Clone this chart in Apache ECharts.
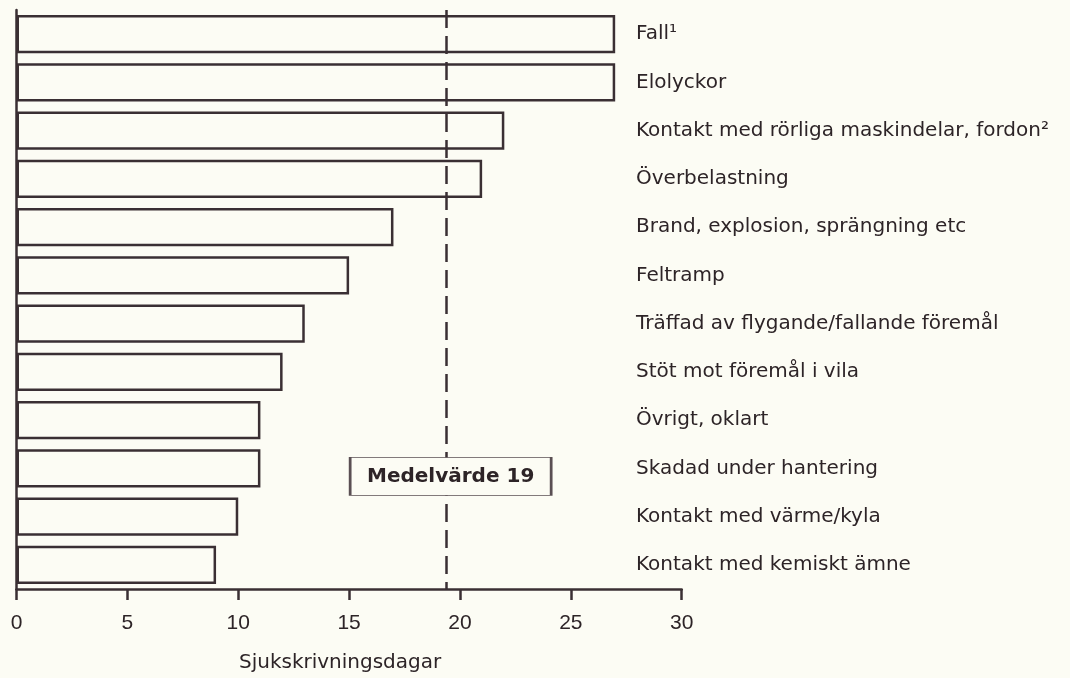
<!DOCTYPE html>
<html>
<head>
<meta charset="utf-8">
<script src="https://cdn.jsdelivr.net/npm/echarts@6/dist/echarts.min.js"></script>
<style>
html,body{margin:0;padding:0;background:#fcfcf4;}
#c{width:1070px;height:678px;}
</style>
</head>
<body>
<div id="c"></div>
<script>
const categories = [
  'Fall\u00B9',
  'Elolyckor',
  'Kontakt med rörliga maskindelar, fordon\u00B2',
  'Överbelastning',
  'Brand, explosion, sprängning etc',
  'Feltramp',
  'Träffad av flygande/fallande föremål',
  'Stöt mot föremål i vila',
  'Övrigt, oklart',
  'Skadad under hantering',
  'Kontakt med värme/kyla',
  'Kontakt med kemiskt ämne'
];
const days = [27, 27, 22, 21, 17, 15, 13, 12, 11, 11, 10, 9];
const meanLine = 19.4;
const meanLabel = 'Medelvärde 19';
const meanLabelCategory = 'Skadad under hantering';
const xTicks = { min: 0, max: 30, interval: 5 };
const axisTitle = 'Sjukskrivningsdagar';

const ink = '#3a2f33';
const textInk = '#2d2427';
const bg = '#fcfcf4';
const font = '"Liberation Sans", Arial, Helvetica, sans-serif';
const wideFont = '"DejaVu Sans", "Liberation Sans", sans-serif';

const chart = echarts.init(document.getElementById('c'), null, {renderer: 'canvas'});
chart.setOption({
  backgroundColor: bg,
  animation: false,
  grid: { left: 16.5, right: 388.3, top: 10, bottom: 86, containLabel: false },
  xAxis: {
    type: 'value',
    min: xTicks.min, max: xTicks.max, interval: xTicks.interval,
    axisLine: { show: true, lineStyle: { color: ink, width: 2.5 } },
    axisTick: { show: true, length: 11, lineStyle: { color: ink, width: 2.5 } },
    splitLine: { show: false },
    axisLabel: { color: textInk, fontSize: 21, fontFamily: font, margin: 24 },
    name: axisTitle,
    nameLocation: 'middle',
    nameGap: 64,
    nameTextStyle: { color: textInk, fontSize: 20, fontFamily: wideFont, padding: [0, 18, 0, 0] }
  },
  yAxis: [
    {
      type: 'category', data: categories, inverse: true, position: 'left',
      axisLine: { show: true, lineStyle: { color: ink, width: 2.5 } },
      axisTick: { show: false },
      axisLabel: { show: false },
      splitLine: { show: false }
    },
    {
      type: 'category', data: categories, inverse: true, position: 'right',
      offset: -45.7,
      axisLine: { show: false },
      axisTick: { show: false },
      splitLine: { show: false },
      axisLabel: { show: true, color: textInk, fontSize: 20, fontFamily: wideFont, margin: 0, align: 'left' }
    }
  ],
  series: [{
    type: 'bar',
    data: days,
    yAxisIndex: 0,
    barCategoryGap: '21%',
    itemStyle: { color: bg, borderColor: ink, borderWidth: 2.5 },
    silent: true,
    markLine: {
      z: 5,
      silent: true,
      symbol: ['none', 'none'],
      label: { show: false },
      lineStyle: { color: ink, width: 2.5, type: [18, 8] },
      data: [{ xAxis: meanLine }]
    },
    markPoint: {
      z: 10,
      silent: true,
      symbol: 'rect',
      symbolSize: [201, 38],
      symbolOffset: [4, 8],
      itemStyle: { color: bg, borderColor: '#5a4f53', borderWidth: 1.2 },
      label: {
        show: true, position: 'inside', formatter: meanLabel,
        color: textInk, fontWeight: 'bold', fontSize: 20, fontFamily: wideFont
      },
      data: [{ coord: [meanLine, meanLabelCategory] }]
    }
  }]
});
</script>
</body>
</html>
